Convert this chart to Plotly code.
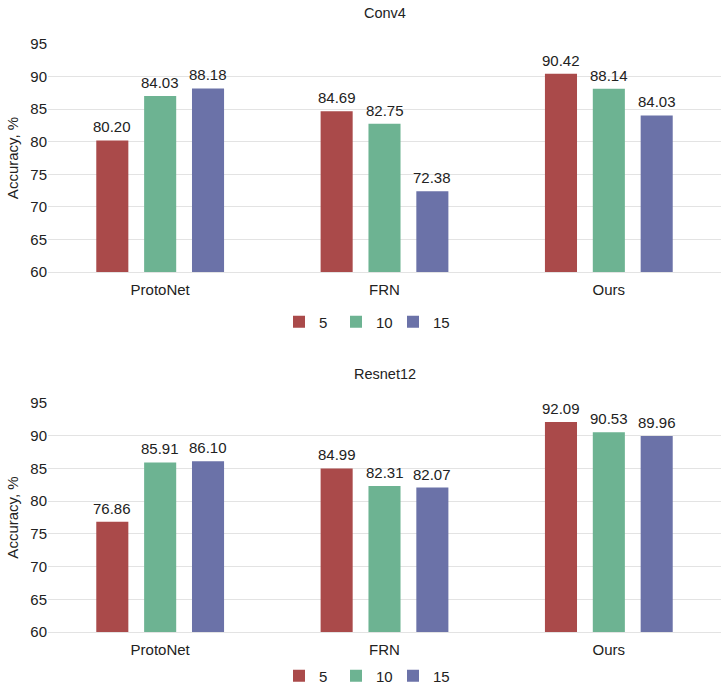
import plotly.graph_objects as go

categories = ["ProtoNet", "FRN", "Ours"]
series_names = ["5", "10", "15"]

# Conv4 (bar heights and printed labels)
conv4_5 = [80.20, 84.69, 90.42]
conv4_10 = [87.0, 82.75, 88.14]
conv4_15 = [88.18, 72.38, 84.03]
conv4_5_lbl = ["80.20", "84.69", "90.42"]
conv4_10_lbl = ["84.03", "82.75", "88.14"]
conv4_15_lbl = ["88.18", "72.38", "84.03"]

# Resnet12
res_5 = [76.86, 84.99, 92.09]
res_10 = [85.91, 82.31, 90.53]
res_15 = [86.10, 82.07, 89.96]
res_5_lbl = ["76.86", "84.99", "92.09"]
res_10_lbl = ["85.91", "82.31", "90.53"]
res_15_lbl = ["86.10", "82.07", "89.96"]

y_ticks = [60, 65, 70, 75, 80, 85, 90, 95]
colors = ["#AA4A4A", "#6DB392", "#6B72A8"]

FONT = "Liberation Sans, Arial, sans-serif"
TXT = "#222"

W, H = 721, 688
ML = 48
BARGAP, GROUPGAP = 0.36, 0.33
cat_px = (W - ML) / len(categories)
pitch = cat_px * (1 - BARGAP) / 3

fig = go.Figure()
annotations = []

top = [(conv4_5, conv4_5_lbl), (conv4_10, conv4_10_lbl), (conv4_15, conv4_15_lbl)]
bot = [(res_5, res_5_lbl), (res_10, res_10_lbl), (res_15, res_15_lbl)]

for panel, (data, xa, ya, lg) in enumerate([(top, "x", "y", "legend"), (bot, "x2", "y2", "legend2")]):
    for i, (vals, lbls) in enumerate(data):
        fig.add_trace(go.Bar(
            x=categories, y=vals, name=series_names[i],
            marker=dict(color=colors[i], line=dict(width=0)),
            xaxis=xa, yaxis=ya, legend=lg, offsetgroup=str(i),
        ))
        for c, v, t in zip(categories, vals, lbls):
            annotations.append(dict(
                x=c, y=v, xref=xa, yref=ya, text=t, showarrow=False,
                xshift=(i - 1) * pitch, yanchor="bottom", yshift=3,
                font=dict(size=15, color=TXT, family=FONT),
            ))

axis_common_y = dict(
    range=[60, 95], tickvals=y_ticks, showgrid=True, gridcolor="#E3E3E3",
    gridwidth=1, zeroline=False, showline=False, ticks="",
    tickfont=dict(size=15, color=TXT, family=FONT),
    title=dict(text="Accuracy, %", font=dict(size=15, color=TXT, family=FONT), standoff=8),
    automargin=False,
)
axis_common_x = dict(
    showgrid=False, zeroline=False, showline=True, linecolor="#E3E3E3", linewidth=1,
    ticks="", tickfont=dict(size=15, color=TXT, family=FONT), ticklabelstandoff=4,
    automargin=False,
)

annotations += [
    dict(text="Conv4", x=0.5, y=1 - 13 / H, xref="paper", yref="paper", yanchor="middle",
         showarrow=False, font=dict(size=14.5, color=TXT, family=FONT)),
    dict(text="Resnet12", x=0.5, y=1 - 374 / H, xref="paper", yref="paper", yanchor="middle",
         showarrow=False, font=dict(size=14.5, color=TXT, family=FONT)),
]

legend_common = dict(orientation="h", x=(279 - ML) / (W - ML), xanchor="left", yanchor="middle",
                     font=dict(size=15, color=TXT, family=FONT), itemwidth=30,
                     traceorder="normal", entrywidth=12, entrywidthmode="pixels")

fig.update_layout(
    width=W, height=H,
    margin=dict(l=ML, r=0, t=0, b=0, autoexpand=False),
    paper_bgcolor="white", plot_bgcolor="white",
    font=dict(family=FONT, color=TXT),
    barmode="group", bargap=BARGAP, bargroupgap=GROUPGAP,
    xaxis=dict(domain=[0, 1], anchor="y", **axis_common_x),
    yaxis=dict(domain=[1 - 272 / H, 1 - 44 / H], anchor="x", **axis_common_y),
    xaxis2=dict(domain=[0, 1], anchor="y2", **axis_common_x),
    yaxis2=dict(domain=[1 - 632 / H, 1 - 403 / H], anchor="x2", **axis_common_y),
    legend=dict(y=1 - 322 / H, **legend_common),
    legend2=dict(y=1 - 676 / H, **legend_common),
    annotations=annotations,
)

fig.write_html("out.html", config={"displayModeBar": False},
               post_script="document.body.style.margin='0px';")
